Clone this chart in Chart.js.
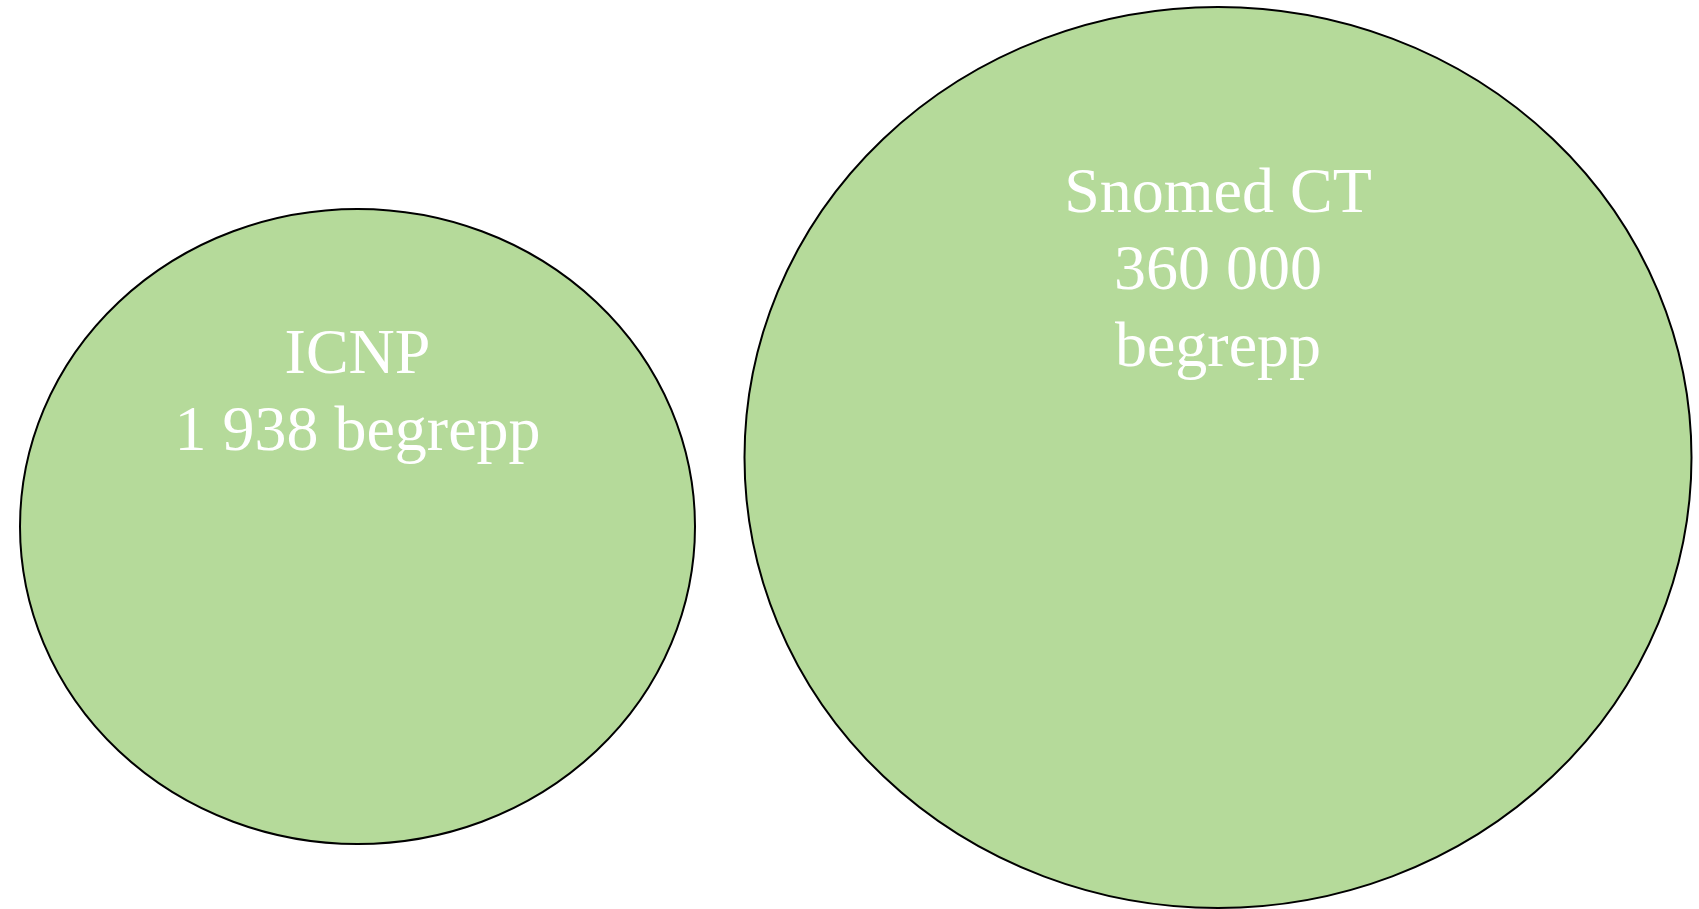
<!DOCTYPE html>
<html>
<head>
<meta charset="utf-8">
<title>ICNP och Snomed CT</title>
<script src="https://cdn.jsdelivr.net/npm/chart.js@4/dist/chart.umd.min.js"></script>
<style>
  html, body { margin: 0; padding: 0; background: #fff; overflow: hidden; }
  #wrap { width: 1699px; height: 909px; position: relative; }
</style>
</head>
<body>
<div id="wrap"><canvas id="chart"></canvas></div>
<script>
// terminologies and number of concepts
var categories = ['ICNP', 'Snomed CT'];
var conceptCounts = [1938, 360000];
var unitLabel = 'begrepp';

// how the label is broken into lines for each ellipse
var lineBreaks = [
    function (name, n) { return [name, n + ' ' + unitLabel]; },
    function (name, n) { return [name, n, unitLabel]; }
];

// layout, in scale units (the scales run 0..1699 across and 0..909 down)
var layout = [
    { cx: 357.5, cy: 526.5, rx: 337.5, ry: 317.5, textTop: -153.5 },
    { cx: 1218,  cy: 457.5, rx: 473.5, ry: 450.5, textTop: -245.5 }
];
var lineGap = 77;

var fillColor = '#b5da9a';
var strokeColor = '#000000';
var fontSpec = '64px "Liberation Serif", "Times New Roman", serif';

function swedishNumber(n) {
    return String(n).replace(/\B(?=(\d{3})+(?!\d))/g, ' ');
}

var ellipsePlugin = {
    id: 'ellipses',
    beforeDatasetsDraw: function (chart) {
        var ctx = chart.ctx;
        var xs = chart.scales.x, ys = chart.scales.y;
        var meta = chart.getDatasetMeta(0);
        meta.data.forEach(function (el, i) {
            var l = layout[i];
            var rx = Math.abs(xs.getPixelForValue(l.cx + l.rx) - xs.getPixelForValue(l.cx));
            var ry = Math.abs(ys.getPixelForValue(l.cy + l.ry) - ys.getPixelForValue(l.cy));
            ctx.save();
            ctx.beginPath();
            ctx.ellipse(el.x, el.y, rx, ry, 0, 0, Math.PI * 2);
            ctx.fillStyle = fillColor;
            ctx.fill();
            ctx.lineWidth = 2;
            ctx.strokeStyle = strokeColor;
            ctx.stroke();

            var lines = lineBreaks[i](categories[i], swedishNumber(conceptCounts[i]));
            ctx.fillStyle = '#ffffff';
            ctx.font = fontSpec;
            ctx.textAlign = 'center';
            ctx.textBaseline = 'alphabetic';
            lines.forEach(function (t, k) {
                var yv = l.cy + l.textTop + k * lineGap;
                ctx.fillText(t, el.x, ys.getPixelForValue(yv));
            });
            ctx.restore();
        });
    }
};

var points = categories.map(function (c, i) {
    return { x: layout[i].cx, y: layout[i].cy, count: conceptCounts[i] };
});

new Chart(document.getElementById('chart').getContext('2d'), {
    type: 'scatter',
    data: {
        datasets: [{
            label: 'Antal begrepp',
            data: points,
            pointRadius: 0,
            pointHoverRadius: 0,
            backgroundColor: 'transparent'
        }]
    },
    options: {
        responsive: true,
        maintainAspectRatio: false,
        animation: false,
        layout: { padding: 0 },
        plugins: {
            legend: { display: false },
            tooltip: { enabled: false }
        },
        scales: {
            x: { type: 'linear', min: 0, max: 1699, display: false },
            y: { type: 'linear', min: 0, max: 909, reverse: true, display: false }
        }
    },
    plugins: [ellipsePlugin]
});
</script>
</body>
</html>
